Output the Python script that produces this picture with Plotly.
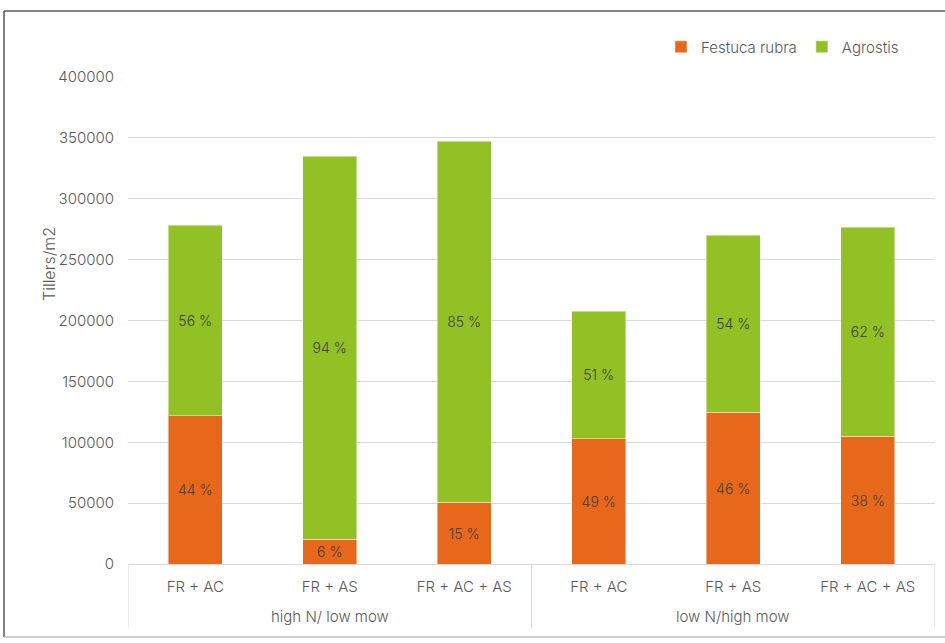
import plotly.graph_objects as go

groups = ["high N/ low mow", "low N/high mow"]
group_sizes = [3, 3]
mixtures = ["FR + AC", "FR + AS", "FR + AC + AS", "FR + AC", "FR + AS", "FR + AC + AS"]
festuca = [121600, 20500, 50900, 102700, 124800, 105100]
agrostis = [156800, 314600, 296500, 105100, 145400, 171700]
festuca_pct = ["44 %", "6 %", "15 %", "49 %", "46 %", "38 %"]
agrostis_pct = ["56 %", "94 %", "85 %", "51 %", "54 %", "62 %"]
y_ticks = [0, 50000, 100000, 150000, 200000, 250000, 300000, 350000, 400000]

FONT = "Inter"
TXT = "#595959"
WEIGHT = 300

pos = list(range(len(mixtures)))

fig = go.Figure()
fig.add_trace(go.Bar(
    name="Festuca rubra", x=pos, y=festuca,
    marker=dict(color="#E8681B", line=dict(color="rgba(255,255,255,0.45)", width=1)),
    text=festuca_pct, textposition="inside", insidetextanchor="middle",
    constraintext="none", textfont=dict(family=FONT, size=14, color="#404040", weight=WEIGHT),
))
fig.add_trace(go.Bar(
    name="Agrostis", x=pos, y=agrostis,
    marker=dict(color="#92C126", line=dict(color="rgba(255,255,255,0.45)", width=1)),
    text=agrostis_pct, textposition="inside", insidetextanchor="middle",
    constraintext="none", textfont=dict(family=FONT, size=14, color="#404040", weight=WEIGHT),
))

L, R, T, B = 128, 10, 77, 79
W, H = 945, 643
pw, ph = W - L - R, H - T - B

def px(x):
    return (x - L) / pw

def py(y):
    return (H - B - y) / ph

fig.update_layout(
    barmode="stack",
    bargap=0.6,
    width=W, height=H,
    margin=dict(l=L, r=R, t=T, b=B),
    paper_bgcolor="white", plot_bgcolor="white",
    font=dict(family=FONT, size=15, color=TXT, weight=WEIGHT),
    showlegend=True,
    legend=dict(orientation="h", x=px(904), xanchor="right", y=py(47), yanchor="middle",
                font=dict(family=FONT, size=15, color=TXT, weight=WEIGHT), traceorder="normal",
                itemwidth=30, bgcolor="rgba(0,0,0,0)"),
)
fig.update_yaxes(
    range=[0, 400000], tickvals=y_ticks, ticktext=[str(v) for v in y_ticks],
    showgrid=True, gridcolor="#D9D9D9", gridwidth=1, zeroline=False,
    showline=False, ticks="", ticklen=0, ticklabelstandoff=13,
    tickfont=dict(family=FONT, size=15, color=TXT, weight=WEIGHT),
)
fig.update_xaxes(
    range=[-0.5, len(mixtures) - 0.5],
    tickvals=pos, ticktext=mixtures,
    showline=True, linecolor="#D9D9D9", linewidth=1,
    showgrid=False, zeroline=False, ticks="", ticklabelstandoff=9,
    tickfont=dict(family=FONT, size=15, color=TXT, weight=WEIGHT),
)

# group labels and dividers of the category axis
start = 0
edges = [-0.5]
for g, n in zip(groups, group_sizes):
    center = start + (n - 1) / 2
    fig.add_annotation(text=g, xref="x", yref="paper", x=center, y=py(616),
                       yanchor="middle", showarrow=False,
                       font=dict(family=FONT, size=15, color=TXT, weight=WEIGHT))
    start += n
    edges.append(start - 0.5)
for e in edges:
    fig.add_shape(type="line", xref="x", yref="paper", x0=e, x1=e, y0=py(564), y1=py(628),
                  line=dict(color="#D9D9D9", width=1))

fig.add_annotation(
    text="Tillers/m2", textangle=-90, xref="paper", yref="paper",
    x=px(37), y=py(264), showarrow=False,
    font=dict(family=FONT, size=16, color=TXT, weight=WEIGHT),
)
# chart frame
fig.add_shape(type="line", xref="paper", yref="paper", x0=px(4), x1=px(950), y0=py(11), y1=py(11),
              line=dict(color="#595959", width=1.5))
fig.add_shape(type="line", xref="paper", yref="paper", x0=px(4), x1=px(4), y0=py(11), y1=py(637),
              line=dict(color="#595959", width=1.5))
fig.add_shape(type="line", xref="paper", yref="paper", x0=px(4), x1=px(950), y0=py(637), y1=py(637),
              line=dict(color="#BFBFBF", width=1.5))

fig.write_html("out.html")
